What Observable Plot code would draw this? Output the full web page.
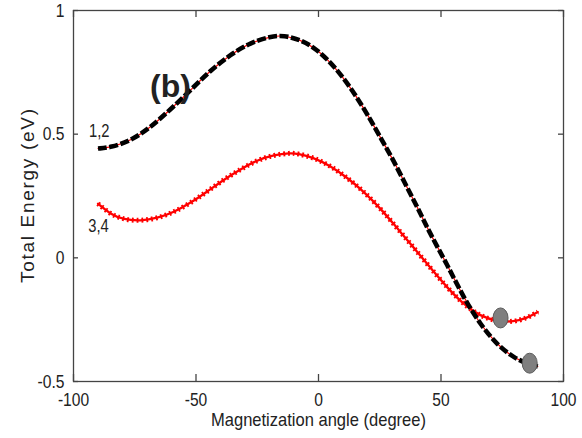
<!DOCTYPE html>
<html>
<head>
<meta charset="utf-8">
<script src="https://cdn.jsdelivr.net/npm/d3@7"></script>
<script src="https://cdn.jsdelivr.net/npm/@observablehq/plot@0.6"></script>
<style>
  html, body { margin: 0; padding: 0; background: #fff; }
  #chart svg { display: block; }
  #chart text { font-family: "Liberation Sans", Arial, sans-serif; }
</style>
</head>
<body>
<div id="chart"></div>
<script>
// Curves 1,2 (black dashed, overlapping red)
const angle12 = [-90, -84.9, -76.7, -68.6, -60.4, -52.2, -44.1, -35.9, -27.8, -19.6, -14.2, -7.3, -1.9, 3.6, 9.0, 14.4, 19.9, 25.3, 30.7, 36.2, 41.6, 45.7, 52.5, 59.3, 66.1, 72.9, 79.7, 86.5, 89.5];
const energy12 = [0.442, 0.446, 0.473, 0.527, 0.600, 0.678, 0.758, 0.822, 0.870, 0.895, 0.900, 0.881, 0.851, 0.804, 0.743, 0.669, 0.581, 0.486, 0.392, 0.284, 0.180, 0.095, -0.027, -0.162, -0.270, -0.351, -0.405, -0.432, -0.439];
// Curves 3,4 (red with markers)
const angle34 = [-90, -84.9, -79.5, -72.7, -65.8, -59.1, -52.2, -45.4, -38.7, -31.8, -25.0, -18.2, -11.4, -8.7, -1.9, 4.9, 11.7, 18.5, 25.3, 32.1, 38.9, 45.7, 52.5, 59.3, 66.1, 72.9, 79.7, 85.2, 89.5];
const energy34 = [0.219, 0.176, 0.155, 0.149, 0.160, 0.184, 0.222, 0.268, 0.316, 0.358, 0.395, 0.416, 0.424, 0.422, 0.405, 0.372, 0.324, 0.268, 0.200, 0.120, 0.041, -0.041, -0.120, -0.189, -0.236, -0.257, -0.259, -0.243, -0.219];
// Grey minimum markers
const minAngle = [74.3, 86.2];
const minEnergy = [-0.243, -0.426];
// Annotations
const labelText = ["1,2", "3,4"];
const labelAngle = [-89.5, -89.8];
const labelEnergy = [0.51, 0.128];
const panelText = ["(b)"];
const panelAngle = [-60.4];
const panelEnergy = [0.692];
// Ticks
const xTicks = [-100, -50, 0, 50, 100];
const yTicks = [-0.5, 0, 0.5, 1];

const c12 = angle12.map((a, i) => ({a, e: energy12[i]}));
const c34 = angle34.map((a, i) => ({a, e: energy34[i]}));
const mins = minAngle.map((a, i) => ({a, e: minEnergy[i]}));
const labels = labelText.map((t, i) => ({t, a: labelAngle[i], e: labelEnergy[i]}));
const panel = panelText.map((t, i) => ({t, a: panelAngle[i], e: panelEnergy[i]}));

const axisColor = "#444";
const W = 582, H = 438, mL = 73, mR = 19, mT = 10, mB = 57;
const innerW = W - mL - mR, innerH = H - mT - mB;

const plot = Plot.plot({
  width: W, height: H,
  marginLeft: mL, marginRight: mR, marginTop: mT, marginBottom: mB,
  x: {domain: [-100, 100]},
  y: {domain: [-0.5, 1]},
  style: {fontSize: "19px", color: "#222", background: "#fff"},
  marks: [
    Plot.frame({stroke: axisColor, strokeWidth: 1.3}),
    // inward ticks
    Plot.tickX(xTicks, {x: d => d, insetTop: innerH - 7, stroke: axisColor, strokeWidth: 1.3}),
    Plot.tickX(xTicks, {x: d => d, insetBottom: innerH - 7, stroke: axisColor, strokeWidth: 1.3}),
    Plot.tickY(yTicks, {y: d => d, insetRight: innerW - 5, stroke: axisColor, strokeWidth: 1.3}),
    Plot.tickY(yTicks, {y: d => d, insetLeft: innerW - 5, stroke: axisColor, strokeWidth: 1.3}),
    Plot.axisX({ticks: xTicks, tickSize: 0, tickPadding: 11, tickFormat: d => String(d), label: null, fontSize: 19, className: "narrow"}),
    Plot.axisY({ticks: yTicks, tickSize: 0, tickPadding: 9, tickFormat: d => String(d), label: null, fontSize: 19, className: "narrow"}),
    // axis titles
    Plot.text(["Magnetization angle (degree)"], {frameAnchor: "bottom", lineAnchor: "middle", dy: 38, fontSize: 19, fill: "#222", className: "xtitle"}),
    Plot.text(["Total Energy (eV)"], {frameAnchor: "left", dx: -46, rotate: -90, textAnchor: "middle", fontSize: 19, fill: "#222", className: "ytitle"}),
    // curves 3,4: red line with cross markers
    Plot.line(c34, {x: "a", y: "e", stroke: "#ff0000", strokeWidth: 2.3, curve: "basis"}),
    Plot.line(c34, {x: "a", y: "e", stroke: "#ff0000", strokeWidth: 5, strokeDasharray: "1.8,3", strokeLinecap: "butt", curve: "basis"}),
    // curves 1,2: thin red under thick black dashes
    Plot.line(c12, {x: "a", y: "e", stroke: "#ff0000", strokeWidth: 1.2, curve: "basis"}),
    Plot.line(c12, {x: "a", y: "e", stroke: "#000", strokeWidth: 4.6, strokeDasharray: "9,2.5", strokeLinecap: "butt", curve: "basis"}),
    // minima markers
    Plot.dot(mins, {x: "a", y: "e", r: 8, fill: "#7f7f7f", stroke: "#5a5a5a", strokeWidth: 1, className: "minima"}),
    // annotations
    Plot.text(labels, {x: "a", y: "e", text: "t", fontSize: 18, fill: "#222", className: "narrow"}),
    Plot.text(panel, {x: "a", y: "e", text: "t", fontSize: 32, fontWeight: "bold", fill: "#222"})
  ]
});

// make minima markers slightly elliptical
d3.select(plot).selectAll(".minima circle").each(function() {
  const c = d3.select(this);
  d3.select(this.parentNode).append("ellipse")
    .attr("cx", c.attr("cx")).attr("cy", c.attr("cy")).attr("rx", 7.5).attr("ry", 10)
    .attr("transform", c.attr("transform"));
  c.remove();
});

document.getElementById("chart").appendChild(plot);

// narrow typeface appearance (condensed glyphs)
d3.select(plot).selectAll(".narrow text").each(function() {
  const len = this.getComputedTextLength();
  this.setAttribute("textLength", (len * 0.82).toFixed(1));
  this.setAttribute("lengthAdjust", "spacingAndGlyphs");
});
d3.select(plot).selectAll(".xtitle text").each(function() {
  this.setAttribute("textLength", 215);
  this.setAttribute("lengthAdjust", "spacingAndGlyphs");
});
d3.select(plot).selectAll(".ytitle text").each(function() {
  this.setAttribute("textLength", 174);
  this.setAttribute("lengthAdjust", "spacing");
});
</script>
</body>
</html>
